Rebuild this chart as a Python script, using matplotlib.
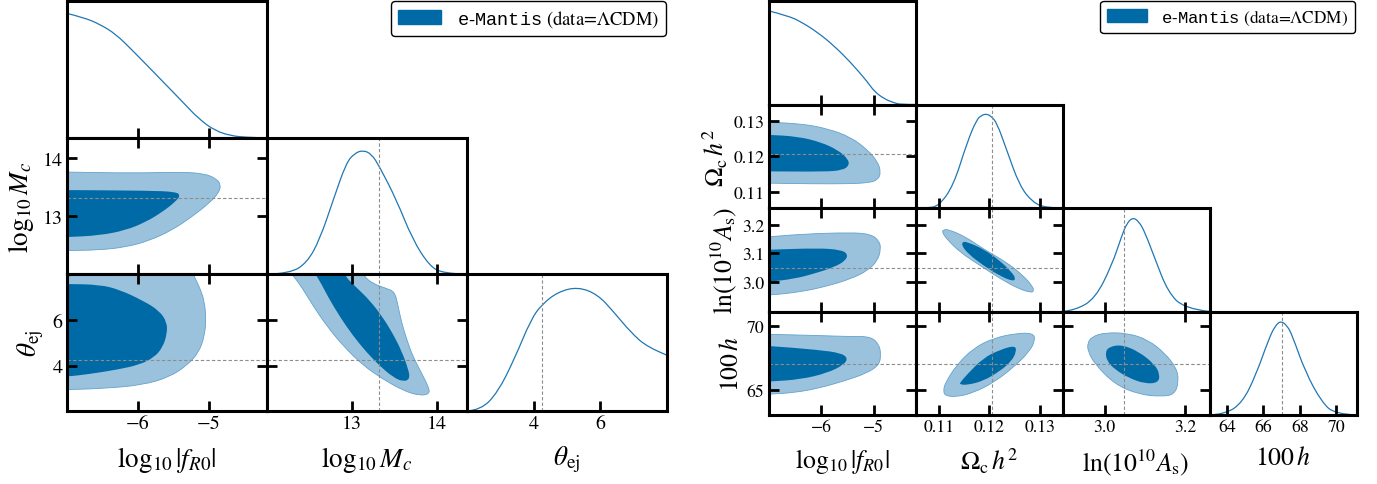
import numpy as np
import matplotlib
matplotlib.use('Agg')
import matplotlib.pyplot as plt
from matplotlib.path import Path
from matplotlib.patches import PathPatch, Patch

plt.rcParams['font.family'] = ['STIXGeneral', 'DejaVu Serif']
plt.rcParams['mathtext.fontset'] = 'custom'
plt.rcParams['mathtext.rm'] = 'STIXGeneral'
plt.rcParams['mathtext.it'] = 'STIXGeneral:italic'
plt.rcParams['mathtext.bf'] = 'STIXGeneral:bold'
plt.rcParams['mathtext.tt'] = 'Liberation Mono'

W, H = 1377, 485

dark = '#006aa6'
light = '#9bc2dc'
edge = '#62a2cd'
curve_c = '#1f77b4'
fid_c = '#8c8c8c'

# ---------------- left triangle: f(R) + baryons ----------------
L_names = [r'$\log_{10}|f_{R0}|$', r'$\log_{10}M_c$', r'$\theta_{\rm ej}$']
L_lims = [(-7.0, -4.18), (12.0, 14.35), (2.0, 8.0)]
L_xticks = [[-6, -5], [13, 14], [4, 6]]
L_xticklabels = [['\u22126', '\u22125'], ['13', '14'], ['4', '6']]
L_yticks = [[], [13, 14], [4, 6]]
L_yticklabels = [[], ['13', '14'], ['4', '6']]
L_fid = [None, 13.32, 4.24]

# 1D marginals
L_fR0_x = [-7.0, -6.77, -6.54, -6.31, -6.07, -5.84, -5.61, -5.38, -5.14, -4.91, -4.68, -4.49, -4.3]
L_fR0_y = [1.0, 0.968, 0.914, 0.833, 0.698, 0.564, 0.429, 0.294, 0.15, 0.055, 0.015, 0.004, 0.0]
L_Mc_x = [12.0, 12.27, 12.47, 12.62, 12.78, 12.93, 13.03, 13.13, 13.23, 13.32, 13.52, 13.71, 13.91, 14.07, 14.35]
L_Mc_y = [0.0, 0.008, 0.094, 0.281, 0.602, 0.897, 0.975, 1.0, 0.967, 0.87, 0.602, 0.281, 0.067, 0.008, 0.0]
L_th_x = [2.0, 2.42, 2.92, 3.42, 3.92, 4.25, 4.72, 5.32, 5.92, 6.42, 6.92, 7.42, 8.0]
L_th_y = [0.0, 0.01, 0.15, 0.417, 0.739, 0.859, 0.958, 1.0, 0.939, 0.792, 0.632, 0.512, 0.45]

# 2D contours (95% outline, 68% outline)
L_Mc_fR0_95x = [-7.3, -7.0, -6.07, -5.38, -5.05, -4.89, -4.83, -4.86, -5.0, -5.24, -5.52, -5.84, -6.17, -6.54, -7.0, -7.3]
L_Mc_fR0_95y = [13.76, 13.76, 13.74, 13.76, 13.73, 13.64, 13.54, 13.40, 13.22, 12.99, 12.76, 12.58, 12.47, 12.42, 12.41, 12.41]
L_Mc_fR0_68x = [-7.3, -7.0, -5.84, -5.47, -5.40, -5.47, -5.66, -5.89, -6.17, -6.54, -7.0, -7.3]
L_Mc_fR0_68y = [13.45, 13.45, 13.44, 13.42, 13.36, 13.25, 13.07, 12.90, 12.76, 12.67, 12.64, 12.64]

L_th_fR0_95x = [-7.3, -5.28, -5.21, -5.12, -5.06, -5.04, -5.06, -5.14, -5.31, -5.56, -5.93, -6.45, -7.0, -7.3]
L_th_fR0_95y = [8.4, 8.4, 7.94, 7.36, 6.78, 6.04, 5.31, 4.58, 4.0, 3.49, 3.15, 3.0, 2.94, 2.94]
L_th_fR0_68x = [-7.3, -7.0, -6.54, -6.26, -5.93, -5.70, -5.59, -5.59, -5.65, -5.77, -5.98, -6.31, -6.68, -7.0, -7.3]
L_th_fR0_68y = [7.58, 7.58, 7.55, 7.33, 6.85, 6.41, 5.90, 5.39, 4.80, 4.36, 4.03, 3.81, 3.63, 3.51, 3.51]

L_th_Mc_95x = [12.2, 13.11, 13.13, 13.25, 13.40, 13.50, 13.54, 13.58, 13.64, 13.71, 13.81, 13.90, 13.91, 13.79,
               13.60, 13.36, 13.13, 12.89, 12.70, 12.54, 12.41, 12.31]
L_th_Mc_95y = [8.4, 8.4, 7.94, 7.58, 7.39, 7.24, 6.63, 5.90, 5.17, 4.43, 3.71, 3.05, 2.75, 2.68,
               2.90, 3.41, 4.0, 4.88, 5.75, 6.63, 7.43, 7.94]
L_th_Mc_68x = [12.5, 12.89, 12.91, 13.05, 13.21, 13.36, 13.48, 13.58, 13.66, 13.68, 13.60, 13.48, 13.32, 13.17,
               13.01, 12.86, 12.72, 12.62]
L_th_Mc_68y = [8.4, 8.4, 7.94, 7.43, 6.85, 6.12, 5.39, 4.65, 3.85, 3.41, 3.29, 3.49, 4.0, 4.58,
               5.31, 6.12, 6.99, 7.72]

# ---------------- right triangle: f(R) + cosmology ----------------
R_names = [r'$\log_{10}|f_{R0}|$', r'$\Omega_{\rm c}\,h^2$', r'$\ln(10^{10}A_{\rm s})$', r'$100\,h$']
R_lims = [(-7.0, -4.2), (0.1054, 0.1345), (2.896, 3.26), (63.05, 71.1)]
R_xticks = [[-6, -5], [0.11, 0.12, 0.13], [3.0, 3.2], [64, 66, 68, 70]]
R_xticklabels = [['\u22126', '\u22125'], ['0.11', '0.12', '0.13'], ['3.0', '3.2'], ['64', '66', '68', '70']]
R_yticks = [[], [0.11, 0.12, 0.13], [3.0, 3.1, 3.2], [65, 70]]
R_yticklabels = [[], ['0.11', '0.12', '0.13'], ['3.0', '3.1', '3.2'], ['65', '70']]
R_fid = [None, 0.1205, 3.048, 67.0]

R_fR0_x = [-7.0, -6.63, -6.38, -6.06, -5.75, -5.43, -5.11, -4.99, -4.80, -4.61, -4.48, -4.2]
R_fR0_y = [0.996, 0.943, 0.879, 0.765, 0.623, 0.445, 0.238, 0.142, 0.061, 0.018, 0.0, 0.0]
R_om_x = [0.1054, 0.1077, 0.110, 0.1129, 0.1156, 0.1175, 0.1185, 0.11935, 0.1203, 0.1215, 0.1234, 0.126, 0.1286, 0.1313, 0.1345]
R_om_y = [0.0, 0.0, 0.02, 0.236, 0.695, 0.94, 0.985, 1.0, 0.98, 0.906, 0.624, 0.236, 0.06, 0.0, 0.0]
R_as_x = [2.896, 2.928, 2.977, 3.018, 3.043, 3.055, 3.07, 3.085, 3.1, 3.125, 3.157, 3.198, 3.26]
R_as_y = [0.0, 0.014, 0.138, 0.49, 0.807, 0.935, 1.0, 0.958, 0.843, 0.56, 0.208, 0.03, 0.0]
R_h_x = [63.05, 63.95, 64.86, 65.58, 66.3, 66.65, 66.96, 67.3, 67.58, 68.3, 69.2, 69.92, 71.1]
R_h_y = [0.0, 0.01, 0.136, 0.42, 0.81, 0.95, 1.0, 0.95, 0.847, 0.456, 0.136, 0.01, 0.0]

R_om_fR0_95x = [-7.3, -7.0, -6.38, -5.87, -5.43, -5.11, -4.92, -4.86, -4.91, -5.08, -5.49, -6.19, -7.0, -7.3]
R_om_fR0_95y = [0.1295, 0.1295, 0.1291, 0.1277, 0.1253, 0.1217, 0.1184, 0.1155, 0.1134, 0.1125, 0.1122, 0.1122, 0.1124, 0.1124]
R_om_fR0_68x = [-7.3, -7.0, -6.44, -6.0, -5.68, -5.49, -5.46, -5.59, -5.94, -7.0, -7.3]
R_om_fR0_68y = [0.1260, 0.1260, 0.1255, 0.1239, 0.1217, 0.1193, 0.1174, 0.1160, 0.1156, 0.1157, 0.1157]

R_as_fR0_95x = [-7.3, -7.0, -6.38, -5.43, -5.05, -4.89, -4.86, -4.92, -5.11, -5.43, -5.87, -6.38, -7.0, -7.3]
R_as_fR0_95y = [3.158, 3.158, 3.168, 3.174, 3.168, 3.144, 3.116, 3.075, 3.04, 3.011, 2.986, 2.965, 2.953, 2.953]
R_as_fR0_68x = [-7.3, -7.0, -6.06, -5.62, -5.49, -5.53, -5.75, -6.13, -6.51, -7.0, -7.3]
R_as_fR0_68y = [3.113, 3.113, 3.119, 3.113, 3.098, 3.075, 3.052, 3.029, 3.011, 3.0, 3.0]

R_h_fR0_95x = [-7.3, -7.0, -6.06, -5.43, -5.05, -4.89, -4.86, -4.89, -5.11, -5.56, -6.06, -6.51, -7.0, -7.3]
R_h_fR0_95y = [69.33, 69.33, 69.23, 69.15, 69.15, 68.51, 67.74, 66.97, 66.33, 65.69, 65.12, 64.79, 64.66, 64.66]
R_h_fR0_68x = [-7.3, -7.0, -6.06, -5.62, -5.49, -5.56, -5.87, -6.38, -7.0, -7.3]
R_h_fR0_68y = [68.43, 68.43, 68.12, 67.87, 67.48, 66.97, 66.33, 65.82, 65.64, 65.64]

R_as_om_95x = [0.11085, 0.11194, 0.11556, 0.11882, 0.12342, 0.12668, 0.12865, 0.12878, 0.12833, 0.12603,
               0.1221, 0.11817, 0.11424, 0.11163, 0.11071]
R_as_om_95y = [3.183, 3.185, 3.156, 3.116, 3.069, 3.023, 2.983, 2.967, 2.963, 2.974,
               3.012, 3.058, 3.104, 3.150, 3.174]
R_as_om_68x = [0.11556, 0.11882, 0.1221, 0.1244, 0.12525, 0.12472, 0.1221, 0.11882, 0.11587, 0.11458, 0.1147]
R_as_om_68y = [3.141, 3.116, 3.075, 3.035, 3.012, 3.002, 3.021, 3.058, 3.098, 3.127, 3.141]

R_h_om_95x = [0.1109, 0.1113, 0.1136, 0.1169, 0.1208, 0.1254, 0.1287, 0.1291, 0.1280, 0.1247, 0.1208, 0.1169, 0.1136, 0.1113]
R_h_om_95y = [64.92, 65.56, 66.97, 68.25, 69.02, 69.41, 69.41, 68.89, 68.0, 66.72, 65.56, 64.79, 64.46, 64.54]
R_h_om_68x = [0.1142, 0.1156, 0.1188, 0.1221, 0.1251, 0.1254, 0.1244, 0.1221, 0.1188, 0.1156, 0.1142]
R_h_om_68y = [65.56, 66.2, 67.48, 68.12, 68.46, 68.0, 67.23, 66.46, 65.69, 65.38, 65.43]

R_h_as_95x = [2.958, 2.969, 3.002, 3.059, 3.108, 3.149, 3.178, 3.184, 3.174, 3.141, 3.084, 3.026, 2.977, 2.959]
R_h_as_95y = [68.64, 69.15, 69.46, 69.41, 68.89, 67.87, 66.72, 65.69, 64.66, 64.48, 64.66, 65.43, 66.97, 68.0]
R_h_as_68x = [3.002, 3.014, 3.043, 3.084, 3.125, 3.137, 3.133, 3.1, 3.059, 3.026, 3.006]
R_h_as_68y = [68.0, 68.38, 68.51, 68.0, 66.97, 66.2, 65.56, 65.48, 65.95, 66.59, 67.23]

legend_label = r'$\mathtt{e}$-$\mathtt{Mantis}$ (data=$\Lambda$CDM)'


def smooth(xs, ys, closed=False):
    # quadratic bezier through the midpoints of the read-off vertices
    p = np.column_stack([xs, ys]).astype(float)
    n = len(p)
    if closed:
        m = (p + np.roll(p, -1, axis=0)) / 2
        verts = [m[-1]]
        codes = [Path.MOVETO]
        for i in range(n):
            verts += [p[i], m[i]]
            codes += [Path.CURVE3, Path.CURVE3]
    else:
        m = (p[:-1] + p[1:]) / 2
        verts = [p[0]]
        codes = [Path.MOVETO]
        for i in range(1, n - 2):
            verts += [p[i], m[i]]
            codes += [Path.CURVE3, Path.CURVE3]
        verts += [p[n - 2], p[n - 1]]
        codes += [Path.CURVE3, Path.CURVE3]
    return Path(verts, codes)


def triangle(fig, x0, y0, w, h, lims, xt, xtl, yt, ytl, names, curves, conts, fids, fs_tick, fs_lab, ypad):
    n = len(lims)
    for i in range(n):
        for j in range(i + 1):
            ax = fig.add_axes([(x0 + j * w) / W, 1 - (y0 + (i + 1) * h) / H, w / W, h / H])
            ax.set_xlim(lims[j])
            for s in ax.spines.values():
                s.set_linewidth(2.2)
            if i == j:
                cx, cy = curves[i]
                ax.add_patch(PathPatch(smooth(cx, cy), fill=False, edgecolor=curve_c, lw=0.9))
                ax.set_ylim(0, 1.1)
                ax.set_yticks([])
                ax.tick_params(axis='x', direction='in', length=7.5, width=2.0, top=False)
                if fids[i] is not None:
                    ax.axvline(fids[i], color=fid_c, ls='--', lw=0.8, dashes=(3, 2))
            else:
                ax.set_ylim(lims[i])
                lx, ly, dx, dy = conts[(i, j)]
                ax.add_patch(PathPatch(smooth(lx, ly, True), facecolor=light, edgecolor=edge, lw=0.6))
                ax.add_patch(PathPatch(smooth(dx, dy, True), facecolor=dark, edgecolor='none'))
                ax.set_yticks(yt[i])
                ax.tick_params(direction='in', length=7.5, width=2.0, top=True, right=True)
                if fids[j] is not None:
                    ax.axvline(fids[j], color=fid_c, ls='--', lw=0.8, dashes=(3, 2))
                if fids[i] is not None:
                    ax.axhline(fids[i], color=fid_c, ls='--', lw=0.8, dashes=(3, 2))
            ax.set_xticks(xt[j])
            ax.tick_params(axis='both', pad=3)
            if i == n - 1:
                ax.set_xticklabels(xtl[j], fontsize=fs_tick)
                ax.set_xlabel(names[j], fontsize=fs_lab, labelpad=8)
            else:
                ax.set_xticklabels([])
            if j == 0 and i > 0:
                ax.set_yticklabels(ytl[i], fontsize=fs_tick)
                ax.set_ylabel(names[i], fontsize=fs_lab, labelpad=ypad)
            elif i != j:
                ax.set_yticklabels([])


fig = plt.figure(figsize=(W / 100, H / 100), dpi=100)

L_curves = [(L_fR0_x, L_fR0_y), (L_Mc_x, L_Mc_y), (L_th_x, L_th_y)]
L_conts = {
    (1, 0): (L_Mc_fR0_95x, L_Mc_fR0_95y, L_Mc_fR0_68x, L_Mc_fR0_68y),
    (2, 0): (L_th_fR0_95x, L_th_fR0_95y, L_th_fR0_68x, L_th_fR0_68y),
    (2, 1): (L_th_Mc_95x, L_th_Mc_95y, L_th_Mc_68x, L_th_Mc_68y),
}
triangle(fig, 67, 2, 200, 136.7, L_lims, L_xticks, L_xticklabels, L_yticks, L_yticklabels,
         L_names, L_curves, L_conts, L_fid, 14.4, 19.5, 5)

R_curves = [(R_fR0_x, R_fR0_y), (R_om_x, R_om_y), (R_as_x, R_as_y), (R_h_x, R_h_y)]
R_conts = {
    (1, 0): (R_om_fR0_95x, R_om_fR0_95y, R_om_fR0_68x, R_om_fR0_68y),
    (2, 0): (R_as_fR0_95x, R_as_fR0_95y, R_as_fR0_68x, R_as_fR0_68y),
    (3, 0): (R_h_fR0_95x, R_h_fR0_95y, R_h_fR0_68x, R_h_fR0_68y),
    (2, 1): (R_as_om_95x, R_as_om_95y, R_as_om_68x, R_as_om_68y),
    (3, 1): (R_h_om_95x, R_h_om_95y, R_h_om_68x, R_h_om_68y),
    (3, 2): (R_h_as_95x, R_h_as_95y, R_h_as_68x, R_h_as_68y),
}
triangle(fig, 768.5, 2, 147, 103.5, R_lims, R_xticks, R_xticklabels, R_yticks, R_yticklabels,
         R_names, R_curves, R_conts, R_fid, 12.7, 18.5, 2)

for right_px, fs in [(666, 13.4), (1355, 12.4)]:
    leg = fig.legend([Patch(facecolor=dark, edgecolor=dark)], [legend_label], loc='upper right',
                     bbox_to_anchor=(right_px / W, 1 - 2 / H), bbox_transform=fig.transFigure,
                     borderaxespad=0, fontsize=fs, frameon=True, fancybox=True,
                     framealpha=1, edgecolor='black', handlelength=2.33, handleheight=0.83,
                     handletextpad=0.83, borderpad=0.38)
    leg.get_frame().set_linewidth(1.0)

fig.savefig('out.png', dpi=100)
